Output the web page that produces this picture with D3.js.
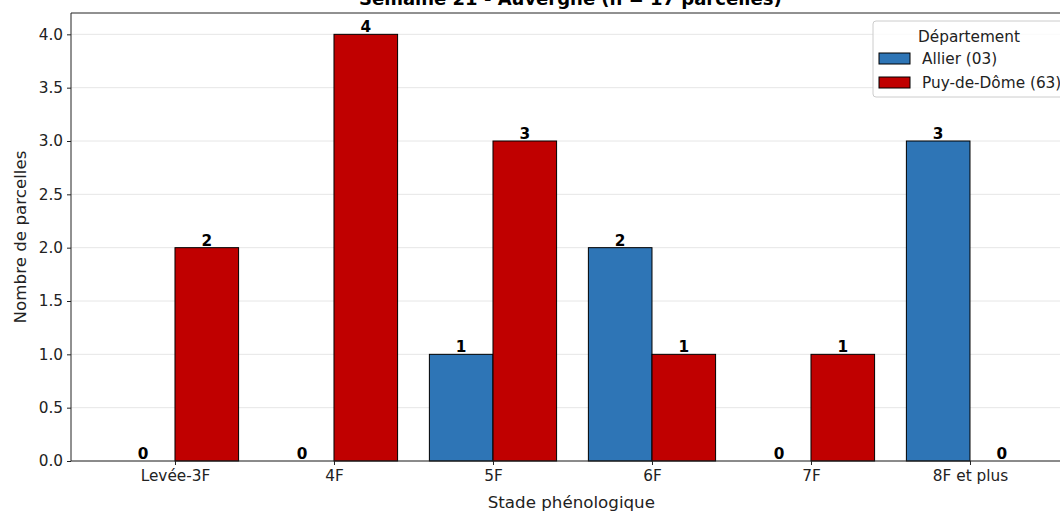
<!DOCTYPE html>
<html>
<head>
<meta charset="utf-8">
<script src="https://cdn.jsdelivr.net/npm/d3@7"></script>
<style>
body{margin:0;background:#fff;}
svg{display:block;font-family:"DejaVu Sans",sans-serif;}
</style>
</head>
<body>
<svg id="chart" width="1060" height="512"></svg>
<script>
var stades = ["Levée-3F","4F","5F","6F","7F","8F et plus"];
var allier = [0,0,1,2,0,3];
var puy = [2,4,3,1,1,0];
var yTicks = [0,0.5,1,1.5,2,2.5,3,3.5,4];
var series = [
    {name:"Allier (03)", vals:allier, color:"#2e75b6", off:-0.4},
    {name:"Puy-de-Dôme (63)", vals:puy, color:"#c00000", off:0}
];

var svg = d3.select("#chart");
var L = 71, T = 13, B = 461;
var x = d3.scaleLinear().domain([-0.654,5.69]).range([L, L+6.344*159]);
var y = d3.scaleLinear().domain([0,4.2]).range([B,T]);
var R = x(5.69);

// grid
svg.append("g").selectAll("line").data(yTicks).enter().append("line")
    .attr("x1",L).attr("x2",R)
    .attr("y1",function(d){return y(d);}).attr("y2",function(d){return y(d);})
    .attr("stroke","#e6e6e6").attr("stroke-width",1);

// bars
series.forEach(function(s){
    var g = svg.append("g");
    g.selectAll("rect").data(s.vals).enter().append("rect")
        .attr("x",function(d,i){return x(i+s.off);})
        .attr("width",function(){return x(0.4)-x(0);})
        .attr("y",function(d){return y(d);})
        .attr("height",function(d){return B-y(d);})
        .attr("fill",s.color)
        .attr("stroke","#000").attr("stroke-width",1);
    g.selectAll("text").data(s.vals).enter().append("text")
        .text(function(d){return d;})
        .attr("x",function(d,i){return x(i+s.off+0.2);})
        .attr("y",function(d){return y(d)-2;})
        .attr("text-anchor","middle")
        .attr("font-weight","bold").attr("font-size",15.3).attr("fill","#000");
});

// axes
var yAxis = d3.axisLeft(y).tickValues(yTicks).tickFormat(d3.format(".1f")).tickSize(4).tickPadding(4);
var ya = svg.append("g").attr("transform","translate("+L+",0)").call(yAxis);
var xAxis = d3.axisBottom(x).tickValues(d3.range(stades.length)).tickFormat(function(i){return stades[i];}).tickSize(4).tickPadding(5);
var xa = svg.append("g").attr("transform","translate(0,"+B+")").call(xAxis);
[ya,xa].forEach(function(a){
    a.select(".domain").remove();
    a.selectAll("text").attr("font-size",15.3).attr("fill","#222").attr("font-family","DejaVu Sans");
    a.selectAll("line").attr("stroke","#222");
});

// spines
svg.append("line").attr("x1",L).attr("x2",L).attr("y1",T).attr("y2",B).attr("stroke","#222");
svg.append("line").attr("x1",L).attr("x2",R).attr("y1",B).attr("y2",B).attr("stroke","#222");
svg.append("line").attr("x1",L).attr("x2",R).attr("y1",T).attr("y2",T).attr("stroke","#222");

// labels
svg.append("text").text("Semaine 21 - Auvergne (n = 17 parcelles)")
    .attr("x",(L+R)/2-5).attr("y",5).attr("text-anchor","middle")
    .attr("font-weight","bold").attr("font-size",18).attr("fill","#000");
svg.append("text").text("Stade phénologique")
    .attr("x",(L+R)/2-4).attr("y",508).attr("text-anchor","middle")
    .attr("font-size",16.7).attr("fill","#222");
svg.append("text").text("Nombre de parcelles")
    .attr("transform","translate(26,"+((T+B)/2)+") rotate(-90)")
    .attr("text-anchor","middle").attr("font-size",16.7).attr("fill","#222");

// legend
var lg = svg.append("g").attr("transform","translate(873,21)");
lg.append("rect").attr("width",200).attr("height",76).attr("rx",3)
    .attr("fill","#fff").attr("fill-opacity",0.8).attr("stroke","#ccc");
lg.append("text").text("Département").attr("x",96).attr("y",21)
    .attr("text-anchor","middle").attr("font-size",15.3).attr("fill","#222");
series.forEach(function(s,i){
    lg.append("rect").attr("x",6).attr("y",32+i*24).attr("width",31).attr("height",11)
        .attr("fill",s.color).attr("stroke","#000");
    lg.append("text").text(s.name).attr("x",49).attr("y",43+i*24)
        .attr("font-size",15.3).attr("fill","#222");
});
</script>
</body>
</html>
